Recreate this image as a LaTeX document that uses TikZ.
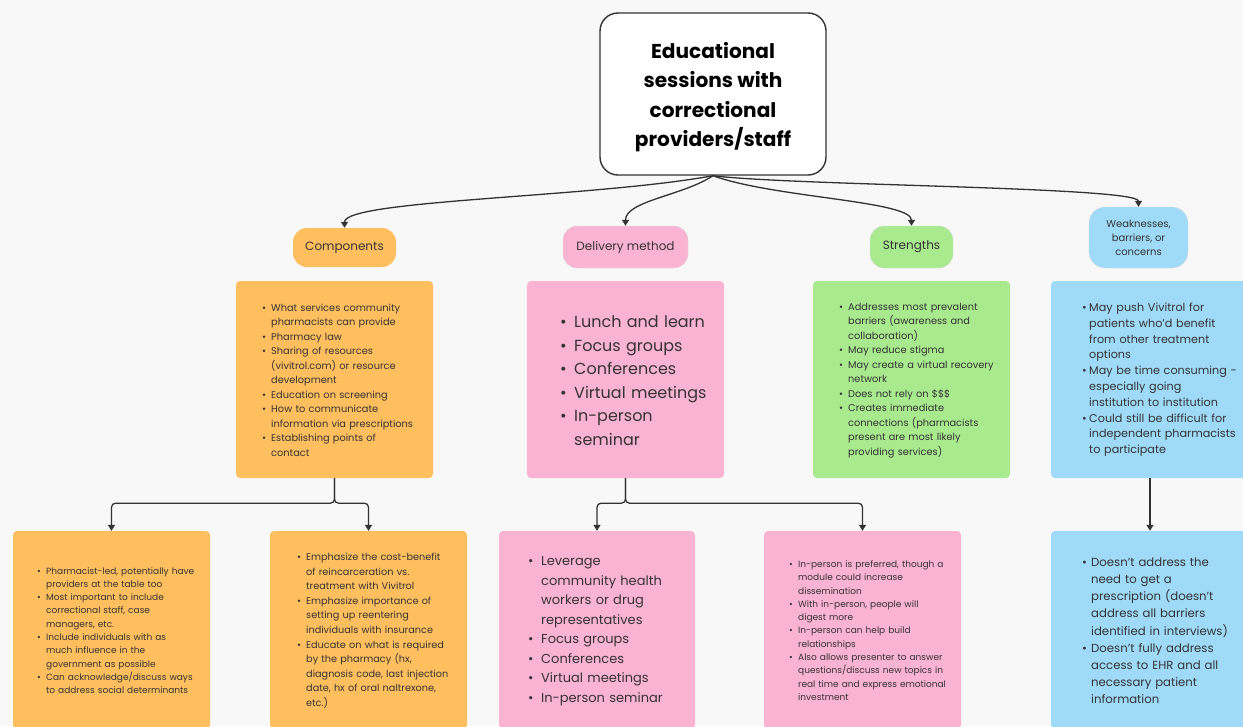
\documentclass[tikz,border=0pt]{standalone}
\usepackage{fontspec}
\setmainfont{Poppins}
\usetikzlibrary{arrows.meta}
\definecolor{bg}{HTML}{F8F8F8}
\definecolor{orng}{HTML}{FFBF5F}
\definecolor{pnk}{HTML}{FBB3D4}
\definecolor{grn}{HTML}{A9EA8F}
\definecolor{blu}{HTML}{9FDBF8}
\definecolor{txt}{HTML}{333333}
\definecolor{lc}{HTML}{333333}
\definecolor{pb}{HTML}{DDDDDD}
\newcommand{\bwid}{9pt}
\newcommand{\bitem}[1]{\par\noindent\hangindent=\bwid\hangafter=1\hbox to \bwid{\textbullet\hss}#1\par}
\begin{document}
\begin{tikzpicture}[x=1pt,y=-1pt,
  conn/.style={draw=lc, line width=1.3pt, -{Triangle[width=7pt,length=6pt]}},
  cbox/.style={fill=#1, rounded corners=4pt, inner sep=0pt, draw=none},
  pill/.style={fill=#1, rounded corners=14pt, inner sep=0pt, text=txt, align=center, font=\fontsize{12}{14}\selectfont},
  lst/.style={anchor=west, inner sep=0pt, text width=260pt, align=left, text=txt}]
\useasboundingbox (0,0) rectangle (1243,726);
\clip (0,0) rectangle (1243,726);
\fill[bg] (0,0) rectangle (1243,726);

% title
\node[draw=lc, line width=1.4pt, fill=white, rounded corners=18pt, minimum width=226pt, minimum height=162pt, inner sep=0pt] (title) at (713,94) {};
\node[align=center, text=black, inner sep=0pt, font=\fontsize{20.1}{29.5}\selectfont\bfseries] (titletext) at (713,97) {Educational\\sessions with\\correctional\\providers/staff};

% category pills
\node[pill=orng, minimum width=103pt, minimum height=39pt] (comp) at (344.5,247.5) {Components};
\node[pill=pnk, draw=pb, minimum width=125pt, minimum height=42pt] (deliv) at (625.5,247) {Delivery method};
\node[pill=grn, draw=pb, minimum width=83pt, minimum height=42pt] (str) at (911.5,247) {Strengths};
\node[pill=blu, draw=pb, rounded corners=16pt, minimum width=99pt, minimum height=61pt, font=\fontsize{10}{14}\selectfont] (weak) at (1138.5,237.5) {Weaknesses,\\barriers, or\\concerns};

% title connectors
\draw[conn] (title.south) .. controls +(-120,22) and +(0,-28) .. (comp.north);
\draw[conn] (title.south) .. controls +(-30,20) and +(0,-25) .. (deliv.north);
\draw[conn] (title.south) .. controls +(60,22) and +(0,-25) .. (str.north);
\draw[conn] (title.south) .. controls +(80,10) and +(0,-20) .. (weak.north);

% upper boxes
\node[cbox=orng, minimum width=197pt, minimum height=197pt] (cb) at (334.5,379.5) {};
\node[cbox=pnk, minimum width=197pt, minimum height=197pt] (db) at (625.5,379.5) {};
\node[cbox=grn, minimum width=197pt, minimum height=197pt] (sb) at (911.5,379.5) {};
\node[cbox=blu, minimum width=198pt, minimum height=197pt] (wb) at (1150,379.5) {};

% lower boxes
\node[cbox=orng, minimum width=197pt, minimum height=198pt] (c1) at (111.5,630) {};
\node[cbox=orng, minimum width=197pt, minimum height=198pt] (c2) at (368.5,630) {};
\node[cbox=pnk, minimum width=196pt, minimum height=198pt] (d1) at (597,630) {};
\node[cbox=pnk, minimum width=197pt, minimum height=198pt] (d2) at (862.5,630) {};
\node[cbox=blu, minimum width=198pt, minimum height=198pt] (w1) at (1150,630) {};

% box connectors
\draw[conn, rounded corners=4pt] (cb.south) -- ++(0,25) -| (c1.north);
\draw[conn, rounded corners=4pt] (cb.south) -- ++(0,25) -| (c2.north);
\draw[conn, rounded corners=4pt] (db.south) -- ++(0,25) -| (d1.north);
\draw[conn, rounded corners=4pt] (db.south) -- ++(0,25) -| (d2.north);
\draw[conn] (wb.south) -- (w1.north);

% texts upper
\node[lst, font=\fontsize{9.8}{14.5}\selectfont] (cbt) at (262,376.6) {%
\bitem{What services community\newline pharmacists can provide}%
\bitem{Pharmacy law}%
\bitem{Sharing of resources\newline (vivitrol.com) or resource\newline development}%
\bitem{Education on screening}%
\bitem{How to communicate\newline information via prescriptions}%
\bitem{Establishing points of\newline contact}};

\node[lst, font=\fontsize{16}{23.5}\selectfont] (dbt) at (560,374.7) {\renewcommand{\bwid}{14pt}%
\bitem{Lunch and learn}%
\bitem{Focus groups}%
\bitem{Conferences}%
\bitem{Virtual meetings}%
\bitem{In-person\newline seminar}};

\node[lst, font=\fontsize{9.8}{14.5}\selectfont] (sbt) at (839,376.6) {%
\bitem{Addresses most prevalent\newline barriers (awareness and\newline collaboration)}%
\bitem{May reduce stigma}%
\bitem{May create a virtual recovery\newline network}%
\bitem{Does not rely on \$\$\$}%
\bitem{Creates immediate\newline connections (pharmacists\newline present are most likely\newline providing services)}};

\node[lst, font=\fontsize{11.2}{15.8}\selectfont] (wbt) at (1082,376.1) {\renewcommand{\bwid}{7pt}%
\bitem{May push Vivitrol for\newline patients who'd benefit\newline from other treatment\newline options}%
\bitem{May be time consuming -\newline especially going\newline institution to institution}%
\bitem{Could still be difficult for\newline independent pharmacists\newline to participate}};

% texts lower
\node[lst, font=\fontsize{9.0}{13.3}\selectfont] (c1t) at (37,627.3) {%
\bitem{Pharmacist-led, potentially have\newline providers at the table too}%
\bitem{Most important to include\newline correctional staff, case\newline managers, etc.}%
\bitem{Include individuals with as\newline much influence in the\newline government as possible}%
\bitem{Can acknowledge/discuss ways\newline to address social determinants}};

\node[lst, font=\fontsize{9.7}{14.6}\selectfont] (c2t) at (297,627.1) {%
\bitem{Emphasize the cost-benefit\newline of reincarceration vs.\newline treatment with Vivitrol}%
\bitem{Emphasize importance of\newline setting up reentering\newline individuals with insurance}%
\bitem{Educate on what is required\newline by the pharmacy (hx,\newline diagnosis code, last injection\newline date, hx of oral naltrexone,\newline etc.)}};

\node[lst, font=\fontsize{13}{19.5}\selectfont] (d1t) at (528,626.1) {\renewcommand{\bwid}{13pt}%
\bitem{Leverage\newline community health\newline workers or drug\newline representatives}%
\bitem{Focus groups}%
\bitem{Conferences}%
\bitem{Virtual meetings}%
\bitem{In-person seminar}};

\node[lst, font=\fontsize{9.0}{13.3}\selectfont] (d2t) at (789,627.3) {%
\bitem{In-person is preferred, though a\newline module could increase\newline dissemination}%
\bitem{With in-person, people will\newline digest more}%
\bitem{In-person can help build\newline relationships}%
\bitem{Also allows presenter to answer\newline questions/discuss new topics in\newline real time and express emotional\newline investment}};

\node[lst, font=\fontsize{11.7}{17.1}\selectfont] (w1t) at (1082,626.5) {%
\bitem{Doesn't address the\newline need to get a\newline prescription (doesn't\newline address all barriers\newline identified in interviews)}%
\bitem{Doesn't fully address\newline access to EHR and all\newline necessary patient\newline information}};
\end{tikzpicture}
\end{document}
